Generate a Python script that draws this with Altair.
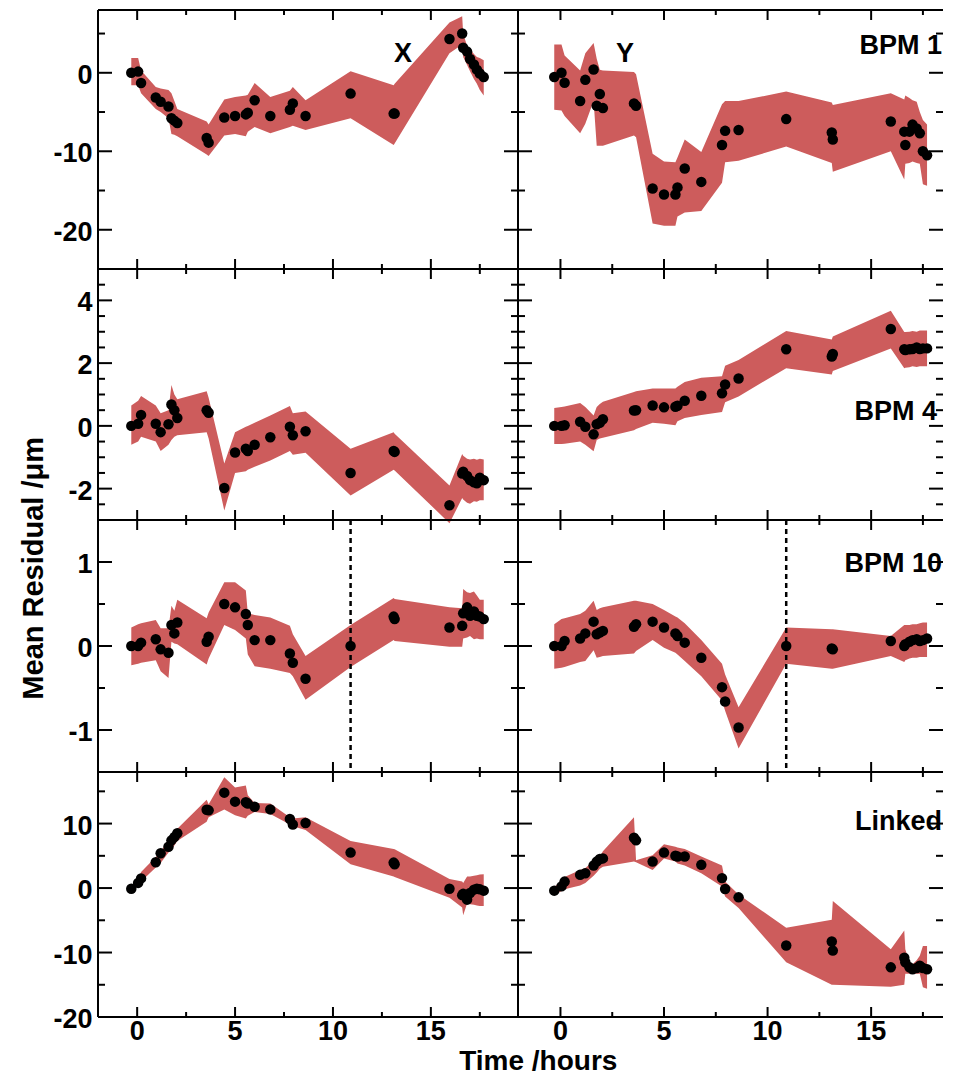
import altair as alt
import pandas as pd

# ---------------- data ----------------
T = [-0.3, 0.05, 0.2, 0.95, 1.2, 1.6, 1.75, 1.9, 2.05, 3.55, 3.65, 4.45, 5.0, 5.55, 5.65, 6.0,
     6.8, 7.8, 7.95, 8.6, 10.9, 13.1, 13.15, 15.95, 16.6, 16.65, 16.85, 17.0, 17.2, 17.35, 17.5, 17.7]

# BPM 1
x1 = [0, 0.15, -1.3, -3.15, -3.7, -4.3, -5.8, -6.1, -6.4, -8.3, -8.9, -5.7, -5.5, -5.3, -5.1, -3.5,
      -5.5, -4.7, -3.9, -5.5, -2.65, -5.2, -5.2, 4.3, 5.0, 3.2, 2.7, 1.75, 1.05, 0.4, -0.1, -0.55]
x1_lo = [-1.6, -1.6, -2.6, -4.6, -5.0, -5.8, -7.8, -7.9, -8.1, -10.4, -10.6, -8.0, -7.8, -8.1, -7.5, -6.9,
         -7.7, -6.9, -6.75, -7.3, -5.8, -9.2, -9.0, 2.5, 3.6, 2.0, 1.0, 0.2, -0.8, -1.4, -2.2, -2.9]
x1_hi = [1.9, 1.9, 0.3, -1.8, -2.0, -2.2, -2.6, -3.6, -4.6, -6.2, -6.6, -3.4, -3.1, -2.9, -2.8, -1.3,
         -3.1, -2.3, -1.8, -3.5, 0.2, -1.6, -1.4, 6.4, 7.2, 5.0, 3.4, 3.0, 2.4, 2.0, 1.9, 1.6]
y1 = [-0.54, 0, -1.26, -3.6, -0.9, 0.42, -4.2, -2.7, -4.5, -3.9, -4.2, -14.75, -15.5, -15.5, -14.6, -12.2,
      -13.9, -9.2, -7.4, -7.3, -5.9, -7.6, -8.5, -6.2, -7.5, -9.2, -7.5, -6.6, -7.1, -7.7, -10.0, -10.5]
y1_lo = [-4.7, -4.8, -5.5, -7.7, -6.5, -3.6, -9.3, -9.3, -9.3, -8.0, -8.2, -19.2, -19.5, -19.5, -18.3, -17.8,
         -17.6, -14.0, -11.4, -11.2, -9.4, -11.5, -12.6, -10.0, -13.6, -11.6, -11.5, -11.3, -11.5, -11.6, -14.2, -14.4]
y1_hi = [3.6, 3.6, 2.2, 0.3, 2.5, 3.8, 1.8, 0.4, 0.3, 0.1, -0.2, -10.3, -11.3, -11.4, -10.8, -8.5,
         -10.1, -4.0, -3.6, -3.6, -2.4, -3.8, -4.1, -2.6, -3.4, -2.9, -3.2, -3.5, -3.7, -5.0, -6.0, -6.6]

# BPM 4
x4 = [0, 0.07, 0.35, 0.07, -0.2, 0.05, 0.68, 0.5, 0.25, 0.5, 0.42, -1.98, -0.85, -0.73, -0.8, -0.6,
      -0.36, -0.03, -0.3, -0.17, -1.5, -0.8, -0.83, -2.53, -1.52, -1.46, -1.6, -1.73, -1.8, -1.83, -1.65, -1.73]
x4_lo = [-0.6, -0.5, -0.35, -0.5, -0.8, -0.6, -0.45, -0.35, -0.3, -0.2, -0.4, -2.7, -1.5, -1.45, -1.4, -1.3,
         -1.1, -0.8, -0.92, -0.86, -2.22, -1.4, -1.42, -3.1, -2.3, -2.35, -2.45, -2.48, -2.4, -2.42, -2.37, -2.37]
x4_hi = [0.65, 0.8, 0.95, 0.65, 0.4, 0.5, 1.3, 1.0, 0.85, 1.1, 0.9, -1.2, -0.2, -0.03, 0.0, 0.1,
         0.33, 0.63, 0.4, 0.46, -0.73, -0.2, -0.25, -1.9, -0.9, -0.95, -1.05, -1.07, -1.05, -1.08, -1.05, -1.07]
y4 = [0, 0, 0.02, 0.13, -0.03, -0.27, 0.05, 0.1, 0.21, 0.49, 0.5, 0.65, 0.59, 0.61, 0.64, 0.8,
      0.96, 1.04, 1.32, 1.51, 2.44, 2.21, 2.29, 3.09, 2.44, 2.42, 2.44, 2.45, 2.5, 2.45, 2.47, 2.47]
y4_lo = [-0.58, -0.58, -0.57, -0.5, -0.6, -0.81, -0.45, -0.4, -0.38, -0.14, -0.1, 0.1, 0.07, 0.02, 0.15, 0.25,
         0.35, 0.44, 0.75, 0.94, 1.84, 1.64, 1.75, 2.47, 1.84, 1.85, 1.87, 1.9, 1.88, 1.9, 1.9, 1.9]
y4_hi = [0.57, 0.6, 0.62, 0.73, 0.6, 0.33, 0.6, 0.7, 0.77, 1.08, 1.1, 1.19, 1.19, 1.19, 1.25, 1.4,
         1.53, 1.58, 1.92, 2.1, 3.02, 2.75, 2.85, 3.67, 2.99, 2.99, 3.0, 3.02, 3.0, 3.04, 3.04, 3.04]

# BPM 10
x10 = [0, 0, 0.04, 0.08, -0.04, -0.08, 0.25, 0.15, 0.28, 0.05, 0.11, 0.5, 0.46, 0.38, 0.25, 0.07,
       0.07, -0.09, -0.2, -0.39, 0.0, 0.35, 0.32, 0.22, 0.24, 0.39, 0.46, 0.36, 0.41, 0.36, 0.35, 0.32]
x10_lo = [-0.23, -0.21, -0.2, -0.17, -0.3, -0.38, 0.05, 0.03, 0.02, -0.22, -0.15, 0.25, 0.19, 0.09, -0.1, -0.24,
          -0.27, -0.32, -0.36, -0.64, -0.25, 0.07, 0.06, -0.01, -0.01, 0.09, 0.1, 0.12, 0.08, 0.09, 0.08, 0.08]
x10_hi = [0.22, 0.26, 0.27, 0.31, 0.21, 0.21, 0.48, 0.42, 0.55, 0.33, 0.4, 0.76, 0.76, 0.66, 0.39, 0.37,
          0.34, 0.24, 0.14, -0.12, 0.25, 0.57, 0.56, 0.46, 0.45, 0.68, 0.64, 0.63, 0.65, 0.6, 0.55, 0.55]
y10 = [0, 0, 0.06, 0.09, 0.15, 0.29, 0.14, 0.16, 0.18, 0.23, 0.26, 0.29, 0.22, 0.15, 0.12, 0.04,
       -0.14, -0.49, -0.66, -0.97, 0.0, -0.03, -0.04, 0.06, 0.0, 0.02, 0.05, 0.07, 0.08, 0.06, 0.07, 0.09]
y10_lo = [-0.27, -0.26, -0.25, -0.19, -0.18, -0.05, -0.14, -0.13, -0.12, -0.09, -0.06, 0.07, -0.02, -0.08, -0.1, -0.18,
          -0.36, -0.65, -0.77, -1.22, -0.21, -0.27, -0.27, -0.12, -0.19, -0.17, -0.15, -0.14, -0.14, -0.13, -0.13, -0.13]
y10_hi = [0.26, 0.32, 0.33, 0.38, 0.42, 0.54, 0.43, 0.45, 0.46, 0.54, 0.54, 0.5, 0.43, 0.35, 0.34, 0.27,
          0.07, -0.21, -0.34, -0.73, 0.22, 0.2, 0.2, 0.12, 0.25, 0.25, 0.25, 0.26, 0.26, 0.27, 0.28, 0.28]

# Linked
xl = [-0.1, 0.8, 1.5, 4.0, 5.4, 6.4, 7.4, 7.9, 8.5, 12.15, 12.05, 14.8, 13.4, 13.3, 13.1, 12.6,
      12.2, 10.7, 9.85, 10.1, 5.5, 3.95, 3.7, -0.1, -1.1, -0.9, -1.8, -0.77, -0.25, -0.1, -0.2, -0.4]
xl_lo = [-0.5, 0.3, 1.0, 3.2, 3.9, 5.5, 5.9, 6.6, 7.3, 10.3, 11.0, 12.2, 11.3, 10.8, 11.2, 11.8,
         11.5, 9.85, 9.6, 9.0, 3.7, 1.8, 1.7, -1.5, -3.0, -4.2, -2.4, -2.5, -2.6, -2.7, -2.8, -2.8]
xl_hi = [0.3, 1.2, 2.5, 4.8, 5.6, 7.6, 8.3, 8.8, 9.2, 13.7, 13.0, 17.2, 15.6, 15.9, 14.4, 13.2,
         13.1, 11.0, 10.8, 11.0, 7.3, 6.05, 6.0, 1.4, 1.0, 0.8, 1.8, 1.8, 1.9, 2.0, 2.1, 2.15]
yl = [-0.4, 0.26, 1.0, 2.05, 2.3, 3.5, 4.1, 4.5, 4.6, 7.8, 7.4, 4.1, 5.5, 5.0, 4.9, 4.9,
      3.6, 1.54, -0.15, -1.44, -8.9, -8.3, -9.7, -12.3, -10.8, -11.5, -12.3, -12.6, -12.4, -12.05, -12.4, -12.6]
yl_lo = [-1.0, -0.5, -0.2, 0.4, 0.8, 1.9, 2.4, 3.0, 3.3, 4.1, 4.0, 2.8, 4.6, 4.1, 3.8, 3.5,
         2.3, 0.26, -1.3, -3.1, -11.5, -15.0, -15.0, -15.3, -15.0, -13.3, -13.3, -13.3, -13.3, -13.3, -15.4, -15.6]
yl_hi = [0.2, 1.0, 1.7, 2.8, 3.1, 4.2, 4.6, 4.9, 5.7, 11.0, 4.3, 5.1, 6.8, 6.4, 6.3, 6.05,
         4.9, 3.5, 1.0, -1.0, -6.15, -4.9, -2.0, -9.5, -6.6, -9.5, -11.5, -11.8, -11.2, -10.5, -9.0, -9.0]

# axes / ticks
x_major = [0, 5, 10, 15]
x_minor = [2.5, 7.5, 12.5, 17.5]
x_labels = ["0", "5", "10", "15"]
rows_cfg = [
    dict(dom=[-25, 8], labels=[0, -10, -20], major=[0, -10, -20], minor=[5, -5, -15]),
    dict(dom=[-3, 5], labels=[-2, 0, 2, 4], major=[-2, 0, 2, 4],
         minor=[-2.5, -1.5, -1, -0.5, 0.5, 1, 1.5, 2.5, 3, 3.5, 4.5]),
    dict(dom=[-1.5, 1.5], labels=[-1, 0, 1], major=[-1, 0, 1], minor=[-0.5, 0.5]),
    dict(dom=[-20, 18], labels=[-20, -10, 0, 10], major=[-10, 0, 10], minor=[-15, -5, 5, 15]),
]
dashed_at = [10.9]

# ---------------- style ----------------
RED = "#cd5c5c"
FONT = "Liberation Sans, Arial, Helvetica, sans-serif"
LW, RW = 420, 425
HS = [259, 251, 252, 245]
XDOM_L = [-2.0, 19.45]
XDOM_R = [-2.05, 18.47]
LAB = 27


def tick_layers(xs, W, H):
    out = []
    for vals, ln in ((x_major, 10), (x_minor, 5)):
        d = alt.Chart(pd.DataFrame({"p": vals})).mark_rule(color="black", strokeWidth=2)
        out.append(d.encode(x=alt.X("p:Q", scale=xs, axis=None), y=alt.value(0), y2=alt.value(ln)))
        out.append(d.encode(x=alt.X("p:Q", scale=xs, axis=None), y=alt.value(H), y2=alt.value(H - ln)))
    return out


def ytick_layers(ys, W, majors, minors):
    out = []
    for vals, ln in ((majors, 14), (minors, 7)):
        d = alt.Chart(pd.DataFrame({"q": vals})).mark_rule(color="black", strokeWidth=2)
        out.append(d.encode(y=alt.Y("q:Q", scale=ys, axis=None), x=alt.value(0), x2=alt.value(ln)))
        out.append(d.encode(y=alt.Y("q:Q", scale=ys, axis=None), x=alt.value(W), x2=alt.value(W - ln)))
    return out


def border_layers(W, H, right):
    d = alt.Chart(pd.DataFrame({"a": [0]})).mark_rule(color="black", strokeWidth=2)
    out = [
        d.encode(x=alt.value(0), x2=alt.value(W), y=alt.value(0)),
        d.encode(x=alt.value(0), x2=alt.value(W), y=alt.value(H)),
        d.encode(x=alt.value(0), y=alt.value(0), y2=alt.value(H)),
    ]
    if right:
        out.append(d.encode(x=alt.value(W), y=alt.value(0), y2=alt.value(H)))
    return out


def text_layer(s, x, y, size=27, align="center", angle=0):
    kw = dict(fontSize=size, fontWeight="bold", font=FONT, color="black", align=align,
              baseline="alphabetic", text=s)
    if angle:
        kw["angle"] = angle
    return alt.Chart(pd.DataFrame({"a": [0]})).mark_text(**kw).encode(x=alt.value(x), y=alt.value(y))


def ylabel_layer(ys, vals):
    d = pd.DataFrame({"q": vals, "s": [str(v) for v in vals]})
    return alt.Chart(d).mark_text(fontSize=LAB, fontWeight="bold", font=FONT, color="black",
                                  align="right", baseline="alphabetic", dy=11).encode(
        y=alt.Y("q:Q", scale=ys, axis=None), x=alt.value(-5.5), text="s:N")


def xlabel_layer(xs, H):
    d = pd.DataFrame({"p": x_major, "s": x_labels})
    return alt.Chart(d).mark_text(fontSize=LAB, fontWeight="bold", font=FONT, color="black",
                                  align="center", baseline="alphabetic").encode(
        x=alt.X("p:Q", scale=xs, axis=None), y=alt.value(H + 23), text="s:N")


def panel(row, col, vals, lo, hi, texts, dashed=False):
    cfg = rows_cfg[row]
    W = LW if col == 0 else RW
    H = HS[row]
    xs = alt.Scale(domain=XDOM_L if col == 0 else XDOM_R, nice=False, zero=False)
    ys = alt.Scale(domain=cfg["dom"], nice=False, zero=False)
    df = pd.DataFrame({"t": T, "v": vals, "lo": lo, "hi": hi})
    band = alt.Chart(df).mark_area(color=RED, opacity=1).encode(
        x=alt.X("t:Q", scale=xs, axis=None),
        y=alt.Y("lo:Q", scale=ys, axis=None),
        y2="hi:Q",
    )
    layers = [band]
    if dashed:
        layers.append(alt.Chart(pd.DataFrame({"t": dashed_at})).mark_rule(
            color="black", strokeWidth=2.5, strokeDash=[5, 4]).encode(
            x=alt.X("t:Q", scale=xs, axis=None)))
    layers.append(alt.Chart(df).mark_circle(size=110, color="black", opacity=1).encode(
        x=alt.X("t:Q", scale=xs, axis=None), y=alt.Y("v:Q", scale=ys, axis=None)))
    layers += tick_layers(xs, W, H)
    layers += ytick_layers(ys, W, cfg["major"], cfg["minor"])
    layers += border_layers(W, H, col == 0)
    if col == 0:
        layers.append(ylabel_layer(ys, cfg["labels"]))
    if row == 3:
        layers.append(xlabel_layer(xs, H))
    layers += texts
    return alt.layer(*layers).properties(width=W, height=H)


panels = [
    panel(0, 0, x1, x1_lo, x1_hi, [text_layer("X", 305, 51.5)]),
    panel(0, 1, y1, y1_lo, y1_hi, [text_layer("Y", 107, 51.5), text_layer("BPM 1", 424, 43.6, align="right")]),
    panel(1, 0, x4, x4_lo, x4_hi, []),
    panel(1, 1, y4, y4_lo, y4_hi, [text_layer("BPM 4", 419, 151.4, align="right")]),
    panel(2, 0, x10, x10_lo, x10_hi,
          [text_layer("Mean Residual /\u03bcm", -55, 48.3, size=29, angle=270)], dashed=True),
    panel(2, 1, y10, y10_lo, y10_hi, [text_layer("BPM 10", 424, 52.2, align="right")], dashed=True),
    panel(3, 0, xl, xl_lo, xl_hi, []),
    panel(3, 1, yl, yl_lo, yl_hi, [text_layer("Linked", 424, 58.4, align="right"),
                                   text_layer("Time /hours", 20.3, 298, size=28)]),
]

chart = alt.concat(*panels, columns=2, spacing=0, bounds="flush").properties(
    padding={"left": 11, "top": 0, "right": 0, "bottom": 0},
    background="white",
).configure_view(stroke="transparent")

chart.save("out.html", embed_options={"renderer": "svg", "actions": False})
